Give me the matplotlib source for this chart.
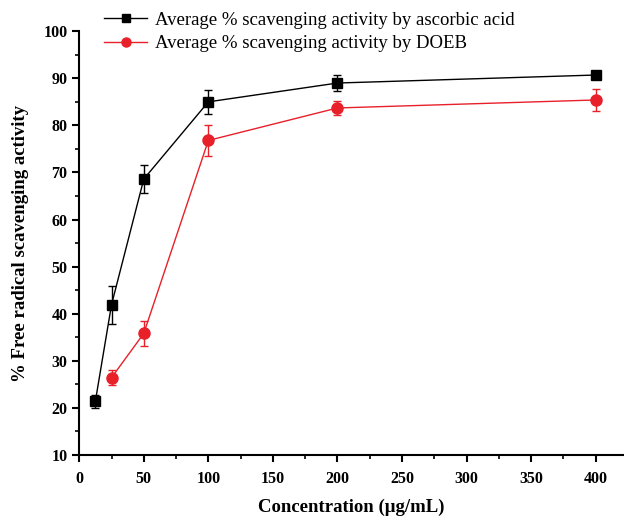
import matplotlib
matplotlib.use("Agg")
import matplotlib.pyplot as plt
from matplotlib.lines import Line2D
from matplotlib.ticker import MultipleLocator

plt.rcParams["font.family"] = ["Liberation Serif", "DejaVu Serif"]

# concentrations (ug/mL)
conc_aa = [12.5, 25, 50, 100, 200, 400]
mean_aa = [21.4, 41.9, 68.6, 85.0, 89.0, 90.7]
err_aa = [1.4, 4.0, 2.9, 2.5, 1.6, 0.6]

conc_doeb = [25, 50, 100, 200, 400]
mean_doeb = [26.4, 35.8, 76.8, 83.7, 85.4]
err_doeb = [1.6, 2.6, 3.3, 1.5, 2.3]

labels = ["Average % scavenging activity by ascorbic acid",
          "Average % scavenging activity by DOEB"]
red = "#e8202a"

fig = plt.figure(figsize=(6.24, 5.21), dpi=100)
ax = fig.add_axes([0.127, 0.127, 0.873, 0.813])

ax.errorbar(conc_aa, mean_aa, yerr=err_aa, color="black", marker="s", ms=7.5,
            lw=1.0, elinewidth=1.0, capsize=3)
ax.errorbar(conc_doeb, mean_doeb, yerr=err_doeb, color=red, marker="o", ms=8,
            lw=1.0, elinewidth=1.0, capsize=3)

ax.set_xlim(0, 422)
ax.set_ylim(10, 100)
ax.xaxis.set_major_locator(MultipleLocator(50))
ax.xaxis.set_minor_locator(MultipleLocator(25))
ax.yaxis.set_major_locator(MultipleLocator(10))
ax.yaxis.set_minor_locator(MultipleLocator(5))
for s in ["top", "right"]:
    ax.spines[s].set_visible(False)
for s in ["left", "bottom"]:
    ax.spines[s].set_linewidth(1.5)
ax.tick_params(which="major", direction="out", length=5, width=1.5, labelsize=11.5)
ax.tick_params(axis="x", which="major", pad=7)
ax.tick_params(which="minor", direction="out", length=3, width=1.2)
for t in ax.get_xticklabels() + ax.get_yticklabels():
    t.set_fontweight("bold")

ax.set_xlabel("Concentration (μg/mL)", fontsize=13.5, fontweight="bold", labelpad=8)
ax.set_ylabel("% Free radical scavenging activity", fontsize=13.5, fontweight="bold", labelpad=10)

handles = [Line2D([], [], color="black", marker="s", ms=6, lw=1.0),
           Line2D([], [], color=red, marker="o", ms=6.5, lw=1.0)]
fig.legend(handles, labels, loc="upper left", bbox_to_anchor=(0.14, 1.01), frameon=False,
           fontsize=13.5, handlelength=2.3, handletextpad=0.4, labelspacing=0.35)

fig.savefig("out.png", dpi=100)
